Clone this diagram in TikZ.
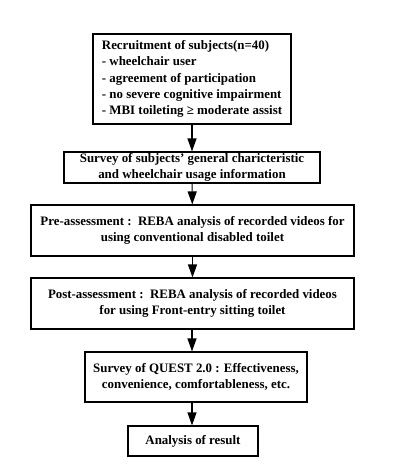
\documentclass[tikz,border=0pt]{standalone}
\usepackage{fontspec}
\setmainfont{Liberation Serif}
\usetikzlibrary{arrows.meta}

\begin{document}
\begin{tikzpicture}[x=1pt,y=-1pt,
    etape/.style={draw, line width=1.1pt, inner sep=0pt, align=center,
        font=\fontsize{12.9}{16.3}\selectfont\bfseries},
    fleche/.style={line width=1.1pt, -{Triangle[width=9pt,length=13pt]}}]
    % cadre
    \useasboundingbox (0,0) rectangle (407,467);
    % boites
    \node[etape, minimum width=198pt, minimum height=90pt, align=left] (recrut) at (192,79)
        {Recruitment of subjects(n=40)\\- wheelchair user\\- agreement of participation\\- no severe cognitive impairment\\- MBI toileting ≥ moderate assist};
    \node[etape, minimum width=256pt, minimum height=31pt] (survey) at (192,167.5)
        {Survey of subjects’ general charicteristic\\and wheelchair usage information};
    \node[etape, minimum width=323pt, minimum height=51pt] (pre) at (192.5,230.5)
        {Pre-assessment :\ \ REBA analysis of recorded videos for\\using conventional disabled toilet};
    \node[etape, minimum width=323pt, minimum height=51pt] (post) at (192.5,303.5)
        {Post-assessment :\ \ REBA analysis of recorded videos\\for using Front-entry sitting toilet};
    \node[etape, minimum width=222pt, minimum height=50pt] (quest) at (196,377)
        {Survey of QUEST 2.0 : Effectiveness,\\convenience, comfortableness, etc.};
    \node[etape, minimum width=130pt, minimum height=30pt] (result) at (193,441)
        {Analysis of result};
    % fleches
    \draw[fleche] (recrut) -- (survey);
    \draw[fleche] (survey) -- (pre);
    \draw[fleche] (pre) -- (post);
    \draw[fleche] (post.south -| recrut) -- (quest.north -| recrut);
    \draw[fleche] (quest.south -| recrut) -- (result.north -| recrut);
\end{tikzpicture}
\end{document}
